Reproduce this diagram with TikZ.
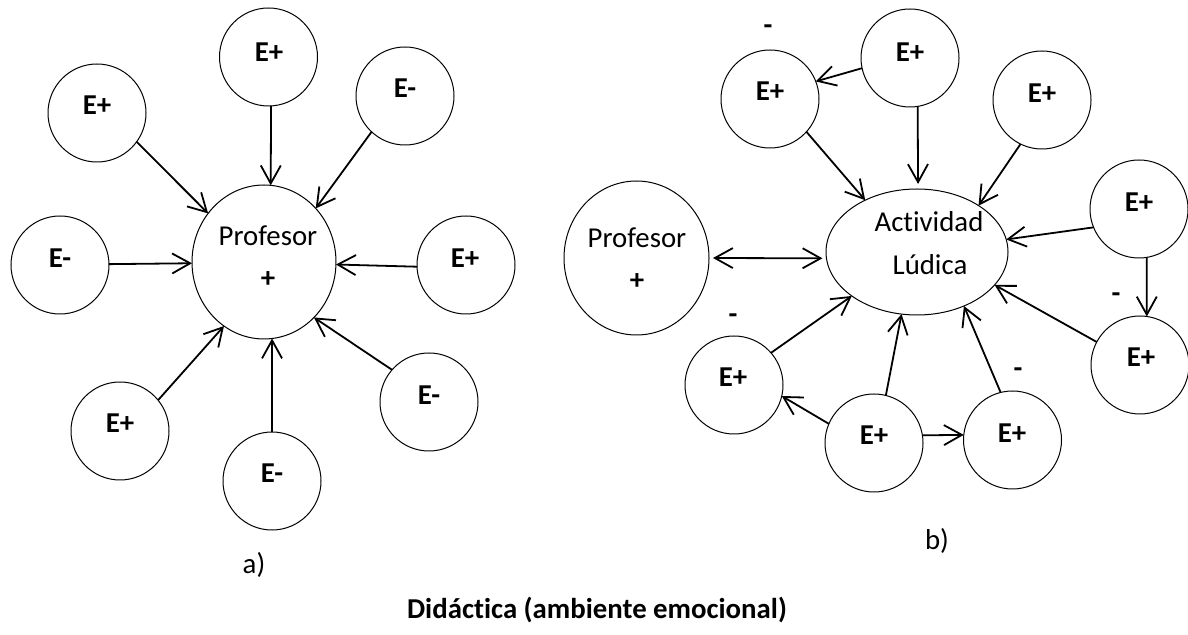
\documentclass[tikz,border=0pt]{standalone}
\usepackage{fontspec}
\setmainfont{Carlito}[Ligatures=NoCommon]
\usetikzlibrary{arrows.meta,shapes.geometric}
\begin{document}
\begin{tikzpicture}[x=0.5pt,y=-0.5pt,
  every node/.style={font=\fontsize{14.4}{17}\selectfont, inner sep=0pt, outer sep=0pt},
  emo/.style={circle,draw,line width=0.5pt,minimum size=49pt},
  big/.style={ellipse,draw,line width=0.5pt},
  lbl/.style={font=\fontsize{14.4}{17}\selectfont\bfseries},
  txt/.style={anchor=base},
  arr/.style={line width=0.9pt,-{Straight Barb[length=9pt,width=10pt]}},
  darr/.style={line width=0.9pt,{Straight Barb[length=9pt,width=10pt]}-{Straight Barb[length=9pt,width=10pt]}}]
\useasboundingbox (0,0) rectangle (1188,635);

% ---------------- a) ----------------
\node[big,minimum width=72pt,minimum height=77pt] (P) at (264,262) {};
\node[txt] (Ptxt) at (268,246) {Profesor};
\node[lbl] (Pplus) at (268,280) {+};

\node[emo] (aT) at (268.5,57) {};
\node[lbl] (aTl) at (269,52) {E+};
\node[emo] (aUL) at (97,113) {};
\node[lbl] (aULl) at (97,105) {E+};
\node[emo] (aUR) at (405,96) {};
\node[lbl] (aURl) at (405,88) {E-};
\node[emo] (aL) at (60,265) {};
\node[lbl] (aLl) at (60,258) {E-};
\node[emo] (aR) at (466,265) {};
\node[lbl] (aRl) at (465,258) {E+};
\node[emo] (aLL) at (120,431) {};
\node[lbl] (aLLl) at (120,423) {E+};
\node[emo] (aB) at (272,481) {};
\node[lbl] (aBl) at (272,473) {E-};
\node[emo] (aLR) at (429,402) {};
\node[lbl] (aLRl) at (429,395) {E-};

\draw[arr] (aUL.-36) -- (P.139);
\draw[arr] (aT.-87) -- (P.85);
\draw[arr] (aUR.-133) -- (P.46);
\draw[arr] (aL.1) -- (P.181);
\draw[arr] (aR.182) -- (P.-2);
\draw[arr] (aLL.39) -- (P.-122);
\draw[arr] (aB.90) -- (P.-84);
\draw[arr] (aLR.139) -- (P.-48);

\node[txt] (alab) at (254,574) {a)};

% ---------------- b) ----------------
\node[big,minimum width=72.5pt,minimum height=77pt] (Q) at (636.5,258) {};
\node[txt] (Qtxt) at (637,248) {Profesor};
\node[lbl] (Qplus) at (637,282) {+};

\node[big,minimum width=91pt,minimum height=63pt] (A) at (917,252) {};
\node[txt] (Atxt1) at (929,232) {Actividad};
\node[txt] (Atxt2) at (930,275) {Lúdica};

\node[emo] (bT) at (910,58) {};
\node[lbl] (bTl) at (910,52) {E+};
\node[emo] (bS) at (770,99) {};
\node[lbl] (bSl) at (770,91) {E+};
\node[emo] (bTR) at (1042,100) {};
\node[lbl] (bTRl) at (1042,93) {E+};
\node[emo] (bR) at (1139,209) {};
\node[lbl] (bRl) at (1139,202) {E+};
\node[emo] (bLR) at (1140,365) {};
\node[lbl] (bLRl) at (1141,357) {E+};
\node[emo] (bLL) at (734,385) {};
\node[lbl] (bLLl) at (733,377) {E+};
\node[emo] (bBM) at (874,443) {};
\node[lbl] (bBMl) at (874,435) {E+};
\node[emo] (bBR) at (1012.5,440) {};
\node[lbl] (bBRl) at (1012,433) {E+};

\node[lbl] (m1) at (768,30) {-};
\node[lbl] (m2) at (733,319) {-};
\node[lbl] (m3) at (1116,298) {-};
\node[lbl] (m4) at (1018,373) {-};

\draw[darr,shorten <=2pt,shorten >=2pt] (Q.0) -- (A.184);
\draw[arr] (bT.192) -- (bS.21);
\draw[arr] (bS.-42) -- (A.135);
\draw[arr,shorten >=2.5pt] (bT.-81) -- (A.89);
\draw[arr] (bTR.-116) -- (A.37);
\draw[arr] (bR.202) -- (A.8);
\draw[arr] (bR.-81) -- (bLR.82);
\draw[arr] (bLR.152) -- (A.-23);
\draw[arr] (bLL.41) -- (A.-146);
\draw[arr] (bBM.76) -- (A.-104);
\draw[arr] (bBM.157) -- (bLL.-13);
\draw[arr] (bBM.9) -- (bBR.174);
\draw[arr] (bBR.104) -- (A.-49);

\node[txt] (blab) at (937,550) {b)};

\node[lbl,anchor=base] (title) at (597,618) {Didáctica (ambiente emocional)};
\end{tikzpicture}
\end{document}
